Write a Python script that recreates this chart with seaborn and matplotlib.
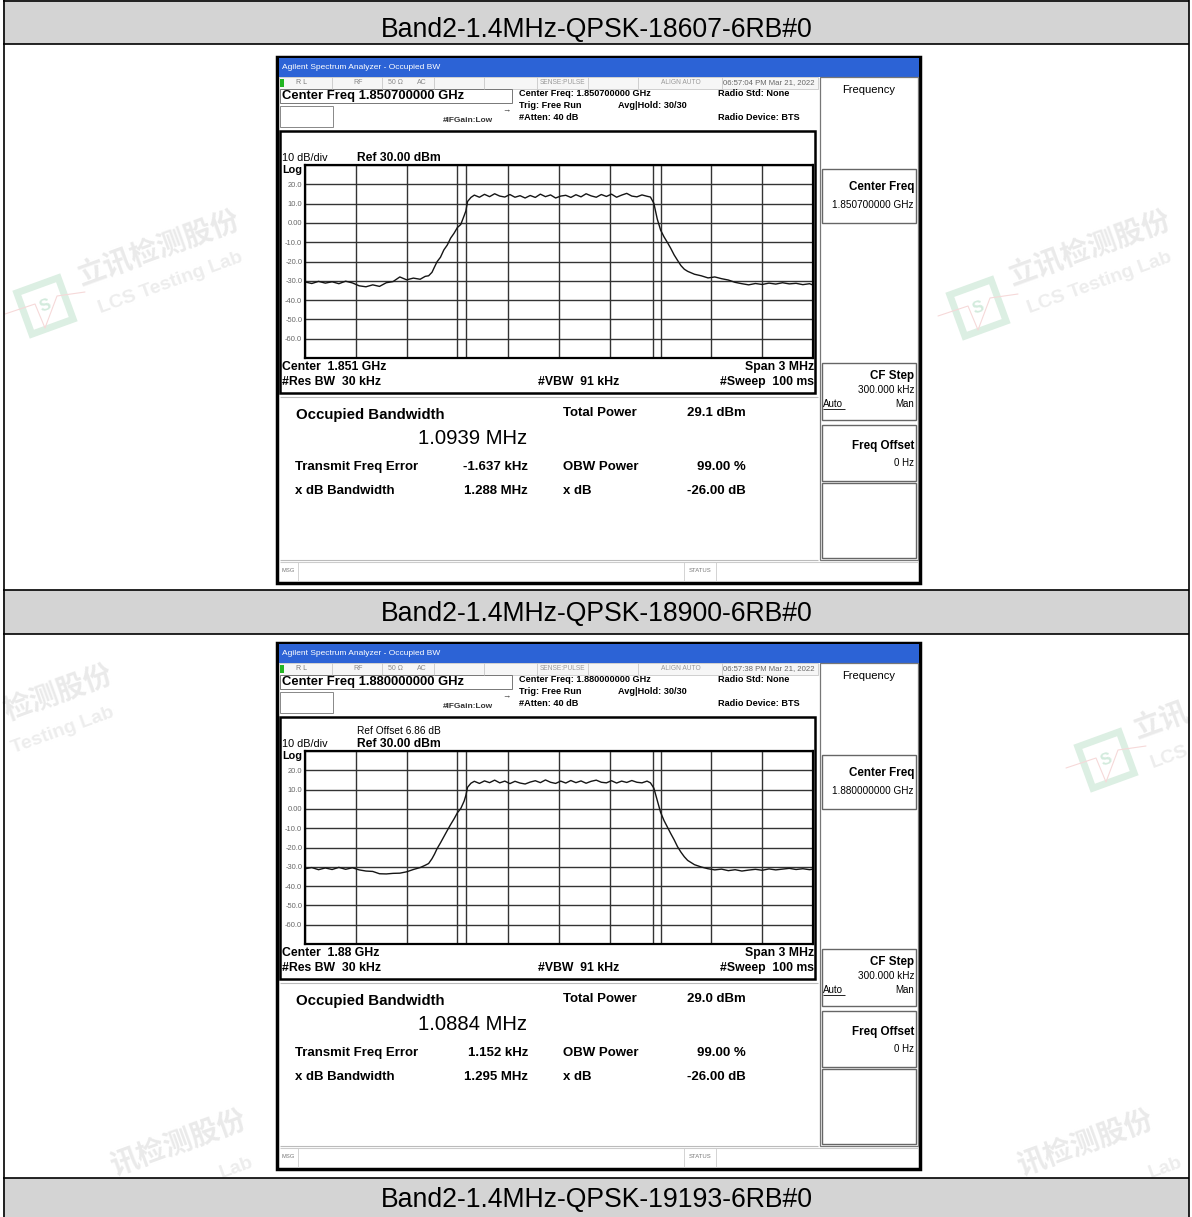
import numpy as np
import pandas as pd
import matplotlib
matplotlib.use("Agg")
import matplotlib.pyplot as plt
import matplotlib.transforms as mtransforms
import seaborn as sns
from matplotlib.patches import Rectangle

# ---------------- data ----------------
row_titles = ["Band2-1.4MHz-QPSK-18607-6RB#0",
              "Band2-1.4MHz-QPSK-18900-6RB#0",
              "Band2-1.4MHz-QPSK-19193-6RB#0"]
center_freq_text = ["1.850700000 GHz", "1.880000000 GHz"]
center_label = ["1.851 GHz", "1.88 GHz"]
timestamps = ["06:57:04 PM Mar 21, 2022", "06:57:38 PM Mar 21, 2022"]
ref_offsets = ["", "Ref Offset 6.86 dB"]
occ_bw = ["1.0939 MHz", "1.0884 MHz"]
total_power = ["29.1 dBm", "29.0 dBm"]
freq_error = ["-1.637 kHz", "1.152 kHz"]
xdb_bw = ["1.288 MHz", "1.295 MHz"]
obw_power = ["99.00 %", "99.00 %"]
xdb_val = ["-26.00 dB", "-26.00 dB"]
obw_markers = [(-0.549, 0.555), (-0.549, 0.555)]   # MHz offset from center

y_ticks = [30, 20, 10, 0, -10, -20, -30, -40, -50, -60, -70]
y_tick_labels = ["", "20.0", "10.0", "0.00", "-10.0", "-20.0", "-30.0",
                 "-40.0", "-50.0", "-60.0", ""]
x_ticks = [-1.5, -1.2, -0.9, -0.6, -0.3, 0.0, 0.3, 0.6, 0.9, 1.2, 1.5]

freq1 = [-1.50, -1.46, -1.42, -1.38, -1.34, -1.30, -1.26, -1.22, -1.18, -1.14,
         -1.10, -1.06, -1.02, -0.98, -0.94, -0.90, -0.86, -0.82, -0.79, -0.77,
         -0.75, -0.735, -0.72, -0.70, -0.68, -0.66, -0.64, -0.62, -0.60, -0.58,
         -0.56, -0.55, -0.54, -0.52, -0.50, -0.47, -0.44, -0.41, -0.38, -0.35,
         -0.32, -0.29, -0.26, -0.23, -0.20, -0.17, -0.14, -0.11, -0.08, -0.05,
         -0.02, 0.01, 0.04, 0.07, 0.10, 0.13, 0.16, 0.19, 0.22, 0.25,
         0.28, 0.31, 0.34, 0.37, 0.40, 0.43, 0.46, 0.49, 0.52, 0.54,
         0.56, 0.58, 0.60, 0.62, 0.64, 0.66, 0.68, 0.70, 0.72, 0.74,
         0.76, 0.80, 0.84, 0.88, 0.92, 0.96, 1.00, 1.04, 1.08, 1.12,
         1.16, 1.20, 1.24, 1.28, 1.32, 1.36, 1.40, 1.44, 1.48, 1.50]
level1 = [-30.6, -31.4, -30.3, -31.2, -30.5, -31.5, -30.2, -31.1, -32.6, -33.1,
          -32.1, -32.9, -31.0, -30.4, -28.0, -29.5, -28.6, -29.2, -27.7, -27.4,
          -25.6, -22.8, -20.1, -17.8, -14.0, -11.5, -7.9, -5.4, -2.4, -0.8,
          3.8, 6.2, 11.1, 13.2, 14.4, 13.3, 14.8, 13.6, 15.1, 13.9,
          13.4, 14.7, 13.3, 14.1, 12.9, 14.2, 13.2, 14.9, 13.6, 14.5,
          12.9, 13.9, 14.3, 13.2, 14.6, 13.5, 15.1, 14.0, 13.3, 14.7,
          13.7, 14.9, 13.3, 14.4, 15.3, 13.9, 13.5, 14.5, 13.8, 13.4,
          10.2, 2.1, -3.7, -7.2, -10.1, -13.2, -16.6, -19.4, -22.1, -24.0,
          -25.1, -26.6, -27.4, -28.5, -28.0, -28.9, -29.6, -30.8, -31.5, -32.1,
          -31.4, -31.9, -31.2, -31.7, -31.0, -31.6, -31.3, -32.0, -31.5, -32.2]

freq2 = [-1.50, -1.46, -1.42, -1.38, -1.34, -1.30, -1.26, -1.22, -1.18, -1.14,
         -1.10, -1.06, -1.02, -0.98, -0.94, -0.90, -0.86, -0.82, -0.79, -0.77,
         -0.75, -0.735, -0.72, -0.70, -0.68, -0.66, -0.64, -0.62, -0.60, -0.58,
         -0.56, -0.55, -0.54, -0.52, -0.50, -0.47, -0.44, -0.41, -0.38, -0.35,
         -0.32, -0.29, -0.26, -0.23, -0.20, -0.17, -0.14, -0.11, -0.08, -0.05,
         -0.02, 0.01, 0.04, 0.07, 0.10, 0.13, 0.16, 0.19, 0.22, 0.25,
         0.28, 0.31, 0.34, 0.37, 0.40, 0.43, 0.46, 0.49, 0.52, 0.54,
         0.56, 0.58, 0.60, 0.62, 0.64, 0.66, 0.68, 0.70, 0.72, 0.74,
         0.76, 0.80, 0.84, 0.88, 0.92, 0.96, 1.00, 1.04, 1.08, 1.12,
         1.16, 1.20, 1.24, 1.28, 1.32, 1.36, 1.40, 1.44, 1.48, 1.50]
level2 = [-31.0, -30.4, -31.5, -30.6, -31.4, -30.3, -31.3, -30.5, -31.6, -32.2,
          -32.4, -33.6, -33.7, -33.4, -33.3, -32.6, -31.4, -30.4, -29.2, -28.3,
          -25.8, -23.4, -20.6, -17.6, -14.4, -11.2, -8.1, -5.2, -2.0, 0.2,
          4.1, 7.0, 11.2, 13.3, 14.3, 13.2, 14.5, 13.6, 14.9, 13.5,
          14.4, 13.1, 14.3, 13.4, 12.9, 13.9, 14.6, 13.6, 15.0, 13.8,
          13.2, 14.4, 13.4, 14.7, 13.6, 14.5, 13.3, 14.3, 14.9, 13.8,
          13.5, 14.6, 13.4, 14.4, 13.7, 14.7, 13.8, 13.5, 14.4, 13.5,
          10.8, 4.5, -1.8, -6.0, -9.4, -12.8, -16.0, -19.6, -22.4, -24.8,
          -26.7, -28.9, -30.1, -31.0, -31.6, -31.2, -32.0, -31.5, -32.2, -31.7,
          -31.3, -31.8, -31.1, -31.6, -31.2, -30.8, -31.4, -31.0, -31.5, -31.2]

traces = [(freq1, level1), (freq2, level2)]

# ---------------- figure setup ----------------
sns.set_theme(style="white")
LAT = ["Liberation Sans", "DejaVu Sans"]
CJK = ["Noto Sans CJK SC", "DejaVu Sans"]
plt.rcParams["font.family"] = LAT

W, H = 1192, 1217
fig = plt.figure(figsize=(W / 100, H / 100), dpi=100)
bg = fig.add_axes([0, 0, 1, 1])
bg.set_xlim(0, W)
bg.set_ylim(H, 0)
bg.axis("off")


def rect(x, y, w, h, face="none", edge="black", lw=1.0, z=1):
    bg.add_patch(Rectangle((x, y), w, h, facecolor=face, edgecolor=edge,
                           linewidth=lw, zorder=z))


def T(x, y, s, size=6, weight="normal", ha="left", va="center",
      color="black", z=5, **kw):
    bg.text(x, y, s, fontsize=size, fontweight=weight, ha=ha, va=va,
            color=color, zorder=z, family=LAT, **kw)


def line(x0, y0, x1, y1, color="black", lw=1.0, z=2):
    bg.plot([x0, x1], [y0, y1], color=color, lw=lw, zorder=z,
            solid_capstyle="butt")


# ---------------- watermarks ----------------
def wm_cn(x, y, s):
    bg.text(x, y, s, fontsize=20.5, rotation=20, ha="center", va="center",
            color="#eaeaea", family=CJK, fontweight="bold", zorder=0.5)


def wm_en(x, y, s):
    bg.text(x, y, s, fontsize=14, rotation=20, ha="center", va="center",
            color="#ededed", family=LAT, fontweight="bold", zorder=0.5)


def wm_logo(lx, ly):
    tr = mtransforms.Affine2D().rotate_deg_around(lx, ly, -20) + bg.transData
    bg.add_patch(Rectangle((lx - 22, ly - 22), 44, 44, facecolor="none",
                           edgecolor="#dcefe3", linewidth=5, zorder=0.5,
                           transform=tr))
    bg.plot([lx - 40, lx - 10, lx, lx + 12, lx + 40],
            [ly + 8, ly - 2, ly + 22, ly - 10, ly - 14],
            color="#f6d9d9", lw=0.8, zorder=0.6)
    bg.text(lx, ly, "S", fontsize=12, fontweight="bold", ha="center",
            va="center", color="#d3ebdd", rotation=20, zorder=0.6)


wm_cn(159, 249, "立讯检测股份"); wm_en(171, 283, "LCS Testing Lab"); wm_logo(45, 306)
wm_cn(1090, 249, "立讯检测股份"); wm_en(1100, 283, "LCS Testing Lab"); wm_logo(978, 308)
wm_cn(58, 693, "检测股份"); wm_en(63, 731, "Testing Lab")
wm_cn(1162, 721, "立讯"); wm_en(1170, 757, "LCS"); wm_logo(1106, 760)
wm_cn(178, 1143, "讯检测股份"); wm_en(236, 1168, "Lab")
wm_cn(1085, 1143, "讯检测股份"); wm_en(1165, 1168, "Lab")

# ---------------- page table ----------------
for yb in [(0, 44), (590, 634), (1178, 1217)]:
    rect(3, yb[0], 1186, yb[1] - yb[0], face="#d4d4d4", edge="none", z=3)
for yy in [0.8, 44, 590, 634, 1178]:
    line(3, yy, 1189, yy, lw=1.2, z=4)
line(3.5, 0, 3.5, 1217, lw=1.2, z=4)
line(1189, 0, 1189, 1217, lw=1.2, z=4)
T(597, 29.5, row_titles[0], 19.2, ha="center", z=6)
T(597, 613.5, row_titles[1], 19.2, ha="center", z=6)
T(597, 1200.5, row_titles[2], 19.2, ha="center", z=6)


# ---------------- screenshots ----------------
def draw_screen(i, dy):
    rect(277, 57 + dy, 643, 526, face="white", edge="black", lw=2.5, z=1)
    # title bar
    rect(278.5, 58 + dy, 640, 19, face="#2c63d6", edge="none", z=1.5)
    T(282, 67.5 + dy, "Agilent Spectrum Analyzer - Occupied BW", 6.0,
      color="white")
    # status row
    rect(279, 77 + dy, 539, 12, face="#f6f6f6", edge="#c8c8c8", lw=0.6, z=1.5)
    for sx in [332, 382, 434, 484, 537, 588, 638, 722]:
        line(sx, 77 + dy, sx, 89 + dy, color="#c8c8c8", lw=0.6)
    rect(279.5, 78.5 + dy, 4.5, 8, face="#22b522", edge="none", z=2)
    T(296, 83 + dy, "R L", 5.0, color="#777")
    T(353, 83 + dy, "RF", 5.0, color="#888")
    T(388, 83 + dy, "50 Ω", 5.0, color="#888")
    T(417, 83 + dy, "AC", 5.0, color="#888")
    T(540, 83 + dy, "SENSE:PULSE", 4.8, color="#999")
    T(661, 83 + dy, "ALIGN AUTO", 4.8, color="#999")
    T(723, 83 + dy, timestamps[i], 5.6, color="#666")
    # center freq box
    rect(280, 89 + dy, 232, 14, face="white", edge="#777", lw=0.7, z=1.5)
    T(282, 96.5 + dy, "Center Freq " + center_freq_text[i], 9.4,
      weight="bold")
    rect(280, 106 + dy, 53, 21, face="white", edge="#888", lw=0.7, z=1.5)
    T(443, 120 + dy, "#IFGain:Low", 6.0, weight="bold", color="#333")
    T(502, 111 + dy, "→", 6, color="#333")
    T(519, 94 + dy, "Center Freq: " + center_freq_text[i], 6.6, weight="bold")
    T(519, 106 + dy, "Trig: Free Run", 6.6, weight="bold")
    T(519, 118 + dy, "#Atten: 40 dB", 6.6, weight="bold")
    T(618, 106 + dy, "Avg|Hold: 30/30", 6.6, weight="bold")
    T(718, 94 + dy, "Radio Std: None", 6.6, weight="bold")
    T(718, 118 + dy, "Radio Device: BTS", 6.6, weight="bold")
    # graph frame
    rect(280, 131 + dy, 535, 262, face="white", edge="black", lw=1.8, z=1.5)
    if ref_offsets[i]:
        T(357, 145 + dy, ref_offsets[i], 7.3)
    T(282, 158 + dy, "10 dB/div", 7.8)
    T(357, 158 + dy, "Ref 30.00 dBm", 8.7, weight="bold")
    T(282, 170 + dy, "Log", 7.8, weight="bold")
    T(282, 367 + dy, "Center  " + center_label[i], 8.8, weight="bold")
    T(282, 382 + dy, "#Res BW  30 kHz", 8.8, weight="bold")
    T(538, 382 + dy, "#VBW  91 kHz", 8.8, weight="bold")
    T(814, 367 + dy, "Span 3 MHz", 8.8, weight="bold", ha="right")
    T(814, 382 + dy, "#Sweep  100 ms", 8.8, weight="bold", ha="right")
    # results panel
    line(280, 397 + dy, 818, 397 + dy, color="#bbb", lw=0.8)
    line(280, 560 + dy, 818, 560 + dy, color="#bbb", lw=0.8)
    T(296, 415 + dy, "Occupied Bandwidth", 10.8, weight="bold")
    T(527, 438 + dy, occ_bw[i], 14.6, ha="right")
    T(295, 467 + dy, "Transmit Freq Error", 9.5, weight="bold")
    T(528, 467 + dy, freq_error[i], 9.5, weight="bold", ha="right")
    T(295, 491 + dy, "x dB Bandwidth", 9.5, weight="bold")
    T(528, 491 + dy, xdb_bw[i], 9.5, weight="bold", ha="right")
    T(563, 413 + dy, "Total Power", 9.5, weight="bold")
    T(746, 413 + dy, total_power[i], 9.5, weight="bold", ha="right")
    T(563, 467 + dy, "OBW Power", 9.5, weight="bold")
    T(746, 467 + dy, obw_power[i], 9.5, weight="bold", ha="right")
    T(563, 491 + dy, "x dB", 9.5, weight="bold")
    T(746, 491 + dy, xdb_val[i], 9.5, weight="bold", ha="right")
    # msg bar
    line(280, 562 + dy, 918, 562 + dy, color="#ccc", lw=0.8)
    for sx in [298, 684, 716]:
        line(sx, 562 + dy, sx, 581 + dy, color="#ccc", lw=0.6)
    T(281, 571 + dy, "MSG", 4.2, color="#777")
    T(700, 571 + dy, "STATUS", 4.2, color="#777", ha="center")
    # soft keys
    rect(820, 77 + dy, 98, 483, face="white", edge="#777", lw=0.9, z=1.5)
    T(869, 90 + dy, "Frequency", 8.0, ha="center")
    for (y0, y1) in [(169, 223), (363, 420), (425, 481), (483, 558)]:
        rect(822, y0 + dy, 94, y1 - y0, face="white", edge="#666", lw=1.0,
             z=1.6)
    T(914, 187 + dy, "Center Freq", 8.4, weight="bold", ha="right")
    T(914, 205 + dy, center_freq_text[i], 7.2, ha="right")
    T(914, 376 + dy, "CF Step", 8.4, weight="bold", ha="right")
    T(914, 390 + dy, "300.000 kHz", 7.2, ha="right")
    T(823, 404 + dy, "Auto", 7.0)
    line(823, 409 + dy, 845, 409 + dy, lw=0.6, z=5)
    T(914, 404 + dy, "Man", 7.0, ha="right")
    T(914, 446 + dy, "Freq Offset", 8.4, weight="bold", ha="right")
    T(914, 463 + dy, "0 Hz", 7.0, ha="right")

    # spectrum axes
    ax = fig.add_axes([305 / W, 1 - (358 + dy) / H, 508 / W, 193 / H])
    ax.set_zorder(10)
    ax.set_facecolor("white")
    fx, lv = traces[i]
    df = pd.DataFrame({"freq": fx, "level": lv})
    sns.lineplot(data=df, x="freq", y="level", ax=ax, color="#151515",
                 lw=1.0, estimator=None, sort=False)
    for m in obw_markers[i]:
        ax.axvline(m, color="#333333", lw=1.0, zorder=1)
    ax.set_xlim(-1.5, 1.5)
    ax.set_ylim(-70, 30)
    ax.set_xticks(x_ticks)
    ax.set_xticklabels([""] * len(x_ticks))
    ax.set_yticks(y_ticks)
    ax.set_yticklabels(y_tick_labels, fontsize=5.4, color="#666")
    ax.tick_params(length=0, pad=2)
    ax.grid(True, color="#333333", lw=1.0)
    ax.set_axisbelow(True)
    ax.set_xlabel("")
    ax.set_ylabel("")
    for sp in ax.spines.values():
        sp.set_color("black")
        sp.set_linewidth(1.6)


draw_screen(0, 0)
draw_screen(1, 586)

fig.savefig("out.png", dpi=100)
